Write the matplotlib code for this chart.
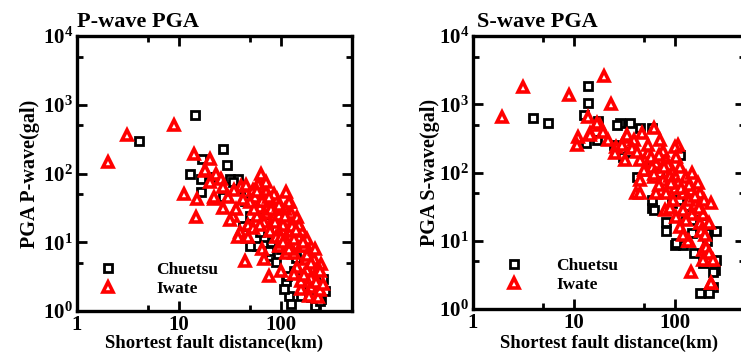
import numpy as np
import matplotlib
matplotlib.use('Agg')
import matplotlib.pyplot as plt
from matplotlib.ticker import LogLocator, NullFormatter, FuncFormatter

plt.rcParams['font.family'] = 'Liberation Serif'
plt.rcParams['font.weight'] = 'bold'
plt.rcParams['axes.labelweight'] = 'bold'
plt.rcParams['mathtext.default'] = 'regular'

# P-wave PGA, Chuetsu (distance km, PGA gal)
cp_d = [4.1, 14.4, 27, 29.5, 12.9, 17, 16.6, 16.6, 31.6, 38, 43, 45, 58, 78, 89, 112, 120, 126, 158,
        224, 250, 270, 257, 178, 135, 81, 68, 76, 50, 53, 34, 27, 50, 62, 115, 107, 215, 20, 40, 45,
        60, 70, 90, 100, 140, 180, 200, 230, 240]
cp_pga = [300, 720, 224, 135, 97, 160, 82, 53, 82, 82, 17, 13, 8.8, 6.3, 5.1, 2.7, 1.65, 1.26, 1.65,
          1.18, 1.5, 1.95, 2.9, 3.4, 3.8, 10, 12, 7.4, 24, 38, 76, 45, 8.8, 14, 3.2, 2.1, 1.2, 90, 60, 40,
          30, 20, 15, 8, 6, 2.5, 1.6, 2.2, 1.4]

# P-wave PGA, Iwate
ip_d = [2.0, 3.1, 8.9, 14, 20, 11.2, 15, 14.8, 18, 23, 22, 27, 45, 64, 76, 123,
        18, 26, 20, 22, 27, 30, 34, 36, 32, 41, 46, 65, 72, 56, 50, 63, 81, 89, 72, 58, 48, 40, 48, 38,
        53, 68, 85, 100, 120, 126, 145, 112, 102, 126, 150, 78, 89, 65, 68, 100, 112, 135, 158, 190,
        178, 214, 250, 230, 182, 145, 135, 158, 200, 230, 190, 158, 214, 115, 135, 95, 170, 182, 160,
        91, 112, 72, 53, 43, 35, 60, 75, 95, 105, 130, 150, 110, 85, 70, 55, 100, 120, 180, 200, 220,
        240, 260, 170, 58, 66, 80, 95, 110, 62, 76, 88, 104, 140, 165, 200, 215, 245]
ip_pga = [145, 367, 514, 195, 165, 50, 42, 23, 107, 97, 42, 32, 5.3, 97, 3.2, 38,
          114, 82, 76, 45, 63, 45, 24, 30, 21, 65, 69, 63, 53, 45, 38, 33, 42, 33, 27, 24, 18, 14, 12, 12,
          16, 19.5, 23, 28, 38, 27, 23, 21, 15, 14.5, 12, 14.5, 12, 8, 5.7, 3.8, 7, 7, 8.8, 7.4,
          5.7, 5.7, 4.8, 4, 4, 4.3, 3.4, 2.1, 2.2, 1.6, 1.65, 2.7, 3.2, 10, 11, 8.8, 8.8, 11, 14.5,
          42, 53, 74, 58, 42, 58, 70, 35, 25, 18, 17, 18, 30, 50, 40, 30, 12, 8, 6.5, 3, 2.6,
          2, 2.5, 3.3, 55, 40, 30, 35, 24, 18, 45, 20, 10, 15, 10, 5, 8, 3.8]

# S-wave PGA, Chuetsu
cs_d = [3.93, 5.5, 13.8, 13.8, 12.6, 13.3, 17.3, 28.5, 36, 45, 60, 112, 60, 83, 83, 100, 120, 150,
        157, 190, 250, 260, 260, 240, 180, 220, 210, 205, 17, 27, 30.5, 42, 63, 104, 94, 166, 135, 60,
        240, 25, 35, 50, 70, 90, 110, 130, 150, 200]
cs_pga = [630, 530, 1850, 1030, 700, 270, 560, 530, 530, 445, 445, 180, 30, 19, 14, 8.7, 8.7, 13,
          6.6, 4.7, 3.7, 5.2, 14, 2.1, 1.7, 1.7, 10, 13, 300, 500, 167, 85, 28, 9.2, 36, 36, 39, 39,
          3.5, 250, 200, 150, 100, 60, 40, 25, 20, 18]

# S-wave PGA, Iwate
is_d = [1.92, 3.15, 9, 20, 23.6, 13.8, 18.1, 11, 10.8, 14.6, 33, 48, 63, 41, 107, 147, 230, 190, 220,
        180, 140, 17, 14.4, 19.4, 21.8, 26.5, 25.5, 34, 40, 71, 38, 32, 45, 54, 76, 100, 104, 83, 66,
        53, 45, 45, 63, 76, 94, 112, 130, 150, 108, 66, 83, 96, 120, 146, 178, 198, 232, 120, 150, 190,
        220, 185, 130, 104, 80, 112, 135, 207, 220, 190, 240, 232, 30, 55, 60, 90, 100, 170, 160, 140,
        200, 120, 90, 70, 42, 58, 70, 86, 50, 62, 78, 92, 115, 140, 160, 175]
is_pga = [653, 1800, 1350, 2570, 1000, 653, 500, 330, 250, 375, 330, 375, 445, 50, 250, 3.5, 2.4, 7.3,
          5.2, 18, 10, 530, 350, 390, 300, 235, 190, 350, 300, 300, 225, 150, 150, 190, 210, 235, 170,
          150, 137, 108, 78, 50, 85, 78, 108, 120, 85, 100, 70, 50, 50, 39, 50, 55, 50, 39, 36, 28, 25,
          25, 18, 14, 20, 22, 28, 16, 10, 8.1, 6.6, 5.2, 5.2, 2.4, 250, 250, 120, 90, 60, 70, 35, 40,
          12, 12, 30, 65, 200, 170, 180, 130, 110, 95, 120, 70, 60, 65, 45, 30]

fig = plt.figure(figsize=(7.41, 3.53), dpi=100)
ax1 = fig.add_axes([77/741, 42/353, 275/741, 275/353])
ax2 = fig.add_axes([473/741, 44/353, 272/741, 273/353])


def style(ax):
    ax.set_xscale('log')
    ax.set_yscale('log')
    ax.set_xlim(1, 500)
    ax.set_ylim(1, 1e4)
    ax.xaxis.set_minor_locator(LogLocator(subs=[5]))
    ax.yaxis.set_minor_locator(LogLocator(subs=[5]))
    ax.xaxis.set_minor_formatter(NullFormatter())
    ax.yaxis.set_minor_formatter(NullFormatter())
    ax.xaxis.set_major_formatter(FuncFormatter(lambda v, p: '%d' % v))
    ax.tick_params(which='both', direction='in', top=True, right=True, width=2, labelsize=15, pad=3)
    ax.tick_params(which='major', length=7)
    ax.tick_params(which='minor', length=4)
    for s in ax.spines.values():
        s.set_linewidth(2.4)


for ax, cd, cv, idd, iv in [(ax1, cp_d, cp_pga, ip_d, ip_pga), (ax2, cs_d, cs_pga, is_d, is_pga)]:
    style(ax)
    ax.plot(cd, cv, 's', ms=6, mfc='white', mec='black', mew=2.0, ls='none', label='Chuetsu')
    ax.plot(idd, iv, '^', ms=7.5, mfc='white', mec='red', mew=2.6, ls='none', label='Iwate')

ax1.legend(loc='lower left', bbox_to_anchor=(0.08, 0.05), frameon=False, fontsize=12.5,
           handlelength=1, handletextpad=2.3, labelspacing=0.15, borderpad=0, borderaxespad=0)
ax2.legend(loc='lower left', bbox_to_anchor=(0.12, 0.06), frameon=False, fontsize=12.5,
           handlelength=1, handletextpad=1.9, labelspacing=0.15, borderpad=0, borderaxespad=0)

ax1.set_ylabel('PGA P-wave(gal)', fontsize=14.5, labelpad=2)
ax2.set_ylabel('PGA S-wave(gal)', fontsize=14.5, labelpad=-1)
ax1.set_xlabel('Shortest fault distance(km)', fontsize=13.5, labelpad=0)
ax2.set_xlabel('Shortest fault distance(km)', fontsize=13.5, labelpad=1)

fig.text(77/741, 1 - 27/353, 'P-wave PGA', fontsize=16, ha='left', va='baseline')
fig.text(477/741, 1 - 27/353, 'S-wave PGA', fontsize=16, ha='left', va='baseline')

fig.savefig('out.png', dpi=100)
